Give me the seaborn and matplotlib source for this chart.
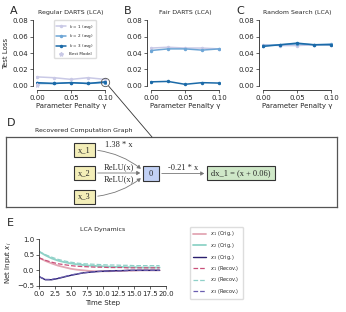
import numpy as np
import pandas as pd
import matplotlib.pyplot as plt
import seaborn as sns
from matplotlib.patches import Rectangle, ConnectionPatch, FancyArrowPatch

sns.set_theme(style="ticks")
plt.rcParams['font.family'] = ['DejaVu Sans']

# ---- data: panels A-C ----
penalty = [0.0, 0.025, 0.05, 0.075, 0.1]
k_labels = ["$k$ = 1 (avg)", "$k$ = 2 (avg)", "$k$ = 3 (avg)"]
k_colors = ["#c9c9e6", "#6ea6d6", "#1b6aa8"]

regular_k1 = [0.011, 0.010, 0.008, 0.010, 0.008]
regular_k2 = [0.003, 0.003, 0.004, 0.003, 0.004]
regular_k3 = [0.004, 0.003, 0.004, 0.003, 0.005]
regular_best = [0.0, 0.001]

fair_k1 = [0.046, 0.047, 0.046, 0.046, 0.045]
fair_k2 = [0.043, 0.045, 0.045, 0.0435, 0.045]
fair_k3 = [0.005, 0.0055, 0.002, 0.004, 0.0035]

random_k1 = [0.050, 0.049, 0.049, 0.050, 0.050]
random_k2 = [0.049, 0.050, 0.051, 0.050, 0.051]
random_k3 = [0.048, 0.050, 0.052, 0.050, 0.050]

panels = [
    ("A", "Regular DARTS (LCA)", [regular_k1, regular_k2, regular_k3]),
    ("B", "Fair DARTS (LCA)", [fair_k1, fair_k2, fair_k3]),
    ("C", "Random Search (LCA)", [random_k1, random_k2, random_k3]),
]
y_ticks = [0.00, 0.02, 0.04, 0.06, 0.08]
x_ticks = [0.00, 0.05, 0.10]

# ---- data: panel D (graph) ----
input_nodes = ["x_1", "x_2", "x_3"]
hidden_node = "0"
output_node = "dx_1 = (x + 0.06)"
edge_labels = ["1.38 * x", "ReLU(x)", "ReLU(x)", "-0.21 * x"]

# ---- data: panel E ----
time_step = list(range(20))
x1_orig = [0.40, 0.30, 0.22, 0.15, 0.10, 0.05, 0.02, 0.0, -0.02, -0.03,
           -0.03, -0.03, -0.02, -0.02, -0.01, -0.01, 0.0, 0.0, 0.0, 0.0]
x2_orig = [0.60, 0.48, 0.38, 0.31, 0.26, 0.22, 0.19, 0.17, 0.15, 0.14,
           0.13, 0.12, 0.11, 0.11, 0.10, 0.10, 0.09, 0.09, 0.09, 0.09]
x3_orig = [-0.20, -0.30, -0.30, -0.26, -0.21, -0.16, -0.12, -0.08, -0.06, -0.04,
           -0.03, -0.02, -0.01, -0.01, 0.0, 0.0, 0.0, 0.0, 0.0, 0.0]
x1_recov = [0.40, 0.32, 0.26, 0.21, 0.18, 0.15, 0.13, 0.12, 0.11, 0.10,
            0.10, 0.09, 0.09, 0.09, 0.08, 0.08, 0.08, 0.08, 0.08, 0.08]
x2_recov = [0.60, 0.50, 0.42, 0.35, 0.30, 0.26, 0.23, 0.21, 0.20, 0.19,
            0.18, 0.17, 0.17, 0.16, 0.16, 0.15, 0.15, 0.15, 0.15, 0.15]
x3_recov = [-0.20, -0.29, -0.29, -0.25, -0.20, -0.15, -0.11, -0.08, -0.06, -0.04,
            -0.03, -0.02, -0.02, -0.01, -0.01, 0.0, 0.0, 0.0, 0.0, 0.0]
lca_series = [
    ("$x_1$ (Orig.)", x1_orig, "#e3a7b4", "-", 1.3),
    ("$x_2$ (Orig.)", x2_orig, "#8fd3c7", "-", 1.3),
    ("$x_3$ (Orig.)", x3_orig, "#2b1f6f", "-", 1.0),
    ("$x_1$ (Recov.)", x1_recov, "#c9507a", "--", 0.9),
    ("$x_2$ (Recov.)", x2_recov, "#8fd0c8", "--", 0.9),
    ("$x_3$ (Recov.)", x3_recov, "#6a5fb0", "--", 0.9),
]

W, H = 346, 312
fig = plt.figure(figsize=(W / 100, H / 100), dpi=100)


def px_axes(l, t, r, b):
    return fig.add_axes([l / W, 1 - b / H, (r - l) / W, (b - t) / H])


# ---- panels A-C ----
lefts = [37, 151, 263]
axes_top = []
for (letter, title, series), x0 in zip(panels, lefts):
    ax = px_axes(x0 - 1.4, 18.4, x0 + 69.4, 87.6)
    for vals, lab, col in zip(series, k_labels, k_colors):
        sns.lineplot(x=penalty, y=vals, ax=ax, color=col, label=lab, marker="o",
                     markersize=2.5, markeredgewidth=0, linewidth=1.1)
    ax.set_xlim(-0.002, 0.102)
    ax.set_ylim(-0.002, 0.082)
    ax.set_xticks(x_ticks)
    ax.set_yticks(y_ticks)
    ax.set_xticklabels([f"{t:.2f}" for t in x_ticks])
    ax.set_yticklabels([f"{t:.2f}" for t in y_ticks])
    ax.tick_params(labelsize=5, length=2, width=0.5, pad=1.5)
    ax.set_title(title, fontsize=4.5, pad=3)
    ax.set_xlabel("Parameter Penalty γ", fontsize=5, labelpad=1)
    sns.despine(ax=ax, offset=2, trim=True)
    for s in ax.spines.values():
        s.set_linewidth(0.6)
    ax.text(-0.36, 1.06, letter, transform=ax.transAxes, fontsize=8)
    ax.get_legend().remove()
    axes_top.append(ax)

axA = axes_top[0]
axA.set_ylabel("Test Loss", fontsize=5, labelpad=2)
axA.plot(regular_best[0], regular_best[1], marker="*", color="#c9c9e6",
         markersize=3, linestyle="none", label="Best Model")
axA.plot(penalty[-1], regular_k3[-1], marker="o", markersize=6, fillstyle="none",
         color="#555555", markeredgewidth=0.6, clip_on=False)
axA.legend(fontsize=3.0, loc="upper right", bbox_to_anchor=(0.88, 1.0),
           handlelength=2.2, labelspacing=0.45, borderpad=0.5, frameon=True,
           edgecolor="#dddddd", framealpha=1)

# ---- panel D ----
axD = px_axes(6, 137, 337, 207)
axD.set_xlim(6, 337)
axD.set_ylim(207, 137)
axD.set_xticks([])
axD.set_yticks([])
for s in axD.spines.values():
    s.set_color("#555555")
    s.set_linewidth(0.9)
fig.text(84 / W, 1 - 130 / H, "Recovered Computation Graph", fontsize=4.5,
         ha="center", va="center")
fig.text(7 / W, 1 - 123 / H, "D", fontsize=8, ha="left", va="center")

serif = dict(family="Liberation Serif", fontsize=6, va="center")
node_y = [150, 173, 196.5]
for name, yc in zip(input_nodes, node_y):
    axD.add_patch(Rectangle((74, yc - 7), 21, 14, facecolor="#f3eeb8",
                            edgecolor="#333333", lw=0.8))
    axD.text(84.5, yc, name, ha="center", **serif)
axD.add_patch(Rectangle((143, 166), 16, 15, facecolor="#c2d1f5",
                        edgecolor="#333333", lw=0.8))
axD.text(151, 173.5, hidden_node, ha="center", **serif)
axD.add_patch(Rectangle((207, 166), 68, 14, facecolor="#cfe8c8",
                        edgecolor="#333333", lw=0.8))
axD.text(241, 173, output_node, ha="center", **serif)

edges = [((95, 150), (143, 170.5), "arc3,rad=-0.15"),
         ((95, 173), (143, 173), "arc3,rad=0"),
         ((95, 196.5), (143, 176.5), "arc3,rad=0.15"),
         ((159, 173.5), (207, 173.5), "arc3,rad=0")]
for (p0, p1, cs) in edges:
    axD.add_patch(FancyArrowPatch(p0, p1, connectionstyle=cs,
                                  arrowstyle="-|>,head_length=2,head_width=1.2",
                                  color="#777777", lw=0.6, mutation_scale=1))
label_pos = [(119, 144.5), (119, 167), (119, 179.5), (183, 168)]
for lab, (lx, ly) in zip(edge_labels, label_pos):
    axD.text(lx, ly, lab, ha="center", **serif)

con = ConnectionPatch(xyA=(penalty[-1], regular_k3[-1]), coordsA=axA.transData,
                      xyB=(152, 137), coordsB=axD.transData, color="#333333",
                      lw=0.6, shrinkA=4, shrinkB=0)
fig.add_artist(con)

# ---- panel E ----
axE = px_axes(39, 239, 166, 286)
for lab, vals, col, ls, lw in lca_series:
    sns.lineplot(x=time_step, y=vals, ax=axE, color=col, linestyle=ls,
                 linewidth=lw, label=lab)
axE.set_xlim(0, 20)
axE.set_ylim(-0.5, 1.0)
axE.set_xticks(np.arange(0, 20.1, 2.5))
axE.set_yticks([-0.5, 0.0, 0.5, 1.0])
axE.tick_params(labelsize=5, length=2, width=0.5, pad=1.5)
axE.set_title("LCA Dynamics", fontsize=4.5, pad=6)
axE.set_xlabel("Time Step", fontsize=5, labelpad=2)
axE.set_ylabel("Net Input $x_i$", fontsize=5, labelpad=2)
sns.despine(ax=axE)
for s in axE.spines.values():
    s.set_linewidth(0.6)
handles, labels = axE.get_legend_handles_labels()
axE.get_legend().remove()
fig.legend(handles, labels, loc="upper left", bbox_to_anchor=(188 / W, 1 - 224 / H),
           fontsize=3.6, handlelength=2.6, labelspacing=0.5, borderpad=0.6,
           frameon=True, edgecolor="#dddddd", framealpha=1)
fig.text(7 / W, 1 - 223 / H, "E", fontsize=8, ha="left", va="center")

fig.savefig("out.png", dpi=100)
